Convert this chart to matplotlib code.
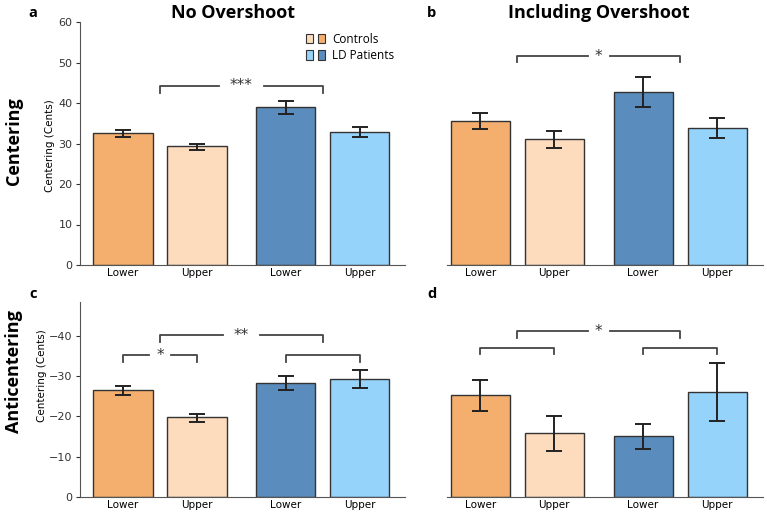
import matplotlib.pyplot as plt
import matplotlib.patches as mpatches
from matplotlib.legend_handler import HandlerTuple
import numpy as np

# bar order: Controls Lower, Controls Upper, LD Lower, LD Upper
tick_labels = ['Lower', 'Upper', 'Lower', 'Upper']
colors = ['#F4AF6F', '#FDDCBD', '#5A8DBD', '#96D3FA']

# panel a: centering, no overshoot
a_mean = [32.5, 29.3, 38.9, 32.8]
a_lo = [31.7, 28.5, 37.4, 31.7]
a_hi = [33.3, 30.0, 40.4, 34.0]
# panel b: centering, including overshoot
b_mean = [35.5, 31.0, 42.8, 33.9]
b_lo = [33.5, 29.0, 39.1, 31.3]
b_hi = [37.6, 33.0, 46.5, 36.4]
# panel c: anticentering, no overshoot
c_mean = [-26.4, -19.7, -28.3, -29.2]
c_lo = [-25.2, -18.8, -26.6, -27.0]
c_hi = [-27.6, -20.8, -30.1, -31.4]
# panel d: anticentering, including overshoot
d_mean = [-25.2, -15.8, -15.1, -26.0]
d_lo = [-21.4, -11.5, -12.0, -18.8]
d_hi = [-29.1, -20.1, -18.3, -33.2]

x = np.array([0, 1, 2.2, 3.2])

fig = plt.figure(figsize=(7.67, 5.16), dpi=100)
W, H = 767, 516


def make_ax(l, r, t, b):
    return fig.add_axes([l / W, 1 - b / H, (r - l) / W, (b - t) / H])


ax_a = make_ax(80, 405, 22, 265)
ax_b = make_ax(447, 763, 22, 265)
ax_c = make_ax(80, 405, 302, 497)
ax_d = make_ax(447, 763, 302, 497)


def draw_bars(ax, mean, lo, hi):
    mean = np.array(mean)
    yerr = [np.abs(mean - np.array(lo)), np.abs(np.array(hi) - mean)]
    ax.bar(x, mean, width=0.8, color=colors, edgecolor='#333333', linewidth=1.0, zorder=2)
    ax.errorbar(x, mean, yerr=yerr, fmt='none', ecolor='#222222', elinewidth=1.4,
                capsize=5.5, capthick=1.4, zorder=3)
    ax.set_xticks(x)
    ax.set_xticklabels(tick_labels, fontsize=7.5)
    for s in ['top', 'right']:
        ax.spines[s].set_visible(False)
    ax.spines['bottom'].set_color('#555555')
    ax.spines['left'].set_color('#555555')
    ax.tick_params(axis='x', length=0, pad=2)
    ax.tick_params(axis='y', labelsize=8, colors='#333333', length=3, pad=2.5)


def bracket(ax, x1, x2, y, drop, label=None, gap=0.0):
    c = '#444444'
    if label:
        xm = (x1 + x2) / 2
        ax.plot([x1, x1, xm - gap], [y - drop, y, y], color=c, lw=1.3, zorder=4)
        ax.plot([xm + gap, x2, x2], [y, y, y - drop], color=c, lw=1.3, zorder=4)
        ax.text(xm, y, label, ha='center', va='center', fontsize=11, color='#333333')
    else:
        ax.plot([x1, x1, x2, x2], [y - drop, y, y, y - drop], color=c, lw=1.3, zorder=4)


draw_bars(ax_a, a_mean, a_lo, a_hi)
draw_bars(ax_b, b_mean, b_lo, b_hi)
draw_bars(ax_c, c_mean, c_lo, c_hi)
draw_bars(ax_d, d_mean, d_lo, d_hi)

for ax in [ax_a, ax_b]:
    ax.set_ylim(0, 60)
for ax in [ax_c, ax_d]:
    ax.set_ylim(0, -48.3)
    ax.set_yticks([0, -10, -20, -30, -40])

ax_a.set_xlim(-0.58, 3.81)
ax_c.set_xlim(-0.58, 3.81)
ax_b.set_xlim(-0.45, 3.82)
ax_d.set_xlim(-0.45, 3.82)

ax_a.set_yticks([0, 10, 20, 30, 40, 50, 60])
for ax in [ax_b, ax_d]:
    ax.spines['left'].set_visible(False)
    ax.set_yticks([])

ax_a.set_ylabel('Centering (Cents)', fontsize=7.5)
ax_c.set_ylabel('Centering (Cents)', fontsize=7.5)
ax_a.yaxis.set_label_coords(-0.078, 0.49)
ax_c.yaxis.set_label_coords(-0.102, 0.62)

# significance brackets
bracket(ax_a, 0.5, 2.7, 44.3, 1.8, '***', gap=0.3)
bracket(ax_b, 0.5, 2.7, 51.6, 1.5, '*', gap=0.15)
bracket(ax_c, 0.5, 2.7, -40.1, -1.6, '**', gap=0.25)
bracket(ax_c, 0, 1, -35.1, -1.7, '*', gap=0.15)
bracket(ax_c, 2.2, 3.2, -35.1, -1.7)
bracket(ax_d, 0.5, 2.7, -41.1, -1.6, '*', gap=0.15)
bracket(ax_d, 0, 1, -37.0, -1.7)
bracket(ax_d, 2.2, 3.2, -37.0, -1.7)

# legend with paired swatches
ctrl = (mpatches.Patch(facecolor=colors[1], edgecolor='#333333', lw=0.8),
        mpatches.Patch(facecolor=colors[0], edgecolor='#333333', lw=0.8))
ld = (mpatches.Patch(facecolor=colors[3], edgecolor='#333333', lw=0.8),
      mpatches.Patch(facecolor=colors[2], edgecolor='#333333', lw=0.8))
ax_a.legend([ctrl, ld], ['Controls', 'LD Patients'],
            handler_map={tuple: HandlerTuple(ndivide=None, pad=0.4)},
            loc='upper right', bbox_to_anchor=(1.0, 1.0), frameon=False,
            handlelength=1.6, handleheight=0.9, handletextpad=0.6,
            labelspacing=0.3, prop={'family': 'Open Sans', 'size': 8.5})

# titles and labels
fig.text(233 / W, 1 - 13 / H, 'No Overshoot', ha='center', va='center',
         fontsize=13, fontweight='bold', family='Open Sans')
fig.text(599 / W, 1 - 13 / H, 'Including Overshoot', ha='center', va='center',
         fontsize=13, fontweight='bold', family='Open Sans')
fig.text(14 / W, 1 - 141 / H, 'Centering', ha='center', va='center', rotation=90,
         fontsize=13, fontweight='bold', family='Open Sans')
fig.text(14 / W, 1 - 372 / H, 'Anticentering', ha='center', va='center', rotation=90,
         fontsize=13, fontweight='bold', family='Open Sans')
for lbl, px, py in [('a', 33, 13), ('b', 432, 13), ('c', 33, 294), ('d', 432, 294)]:
    fig.text(px / W, 1 - py / H, lbl, ha='center', va='center',
             fontsize=10.5, fontweight='bold', family='Open Sans')

plt.savefig('out.png', dpi=100)
plt.close(fig)
